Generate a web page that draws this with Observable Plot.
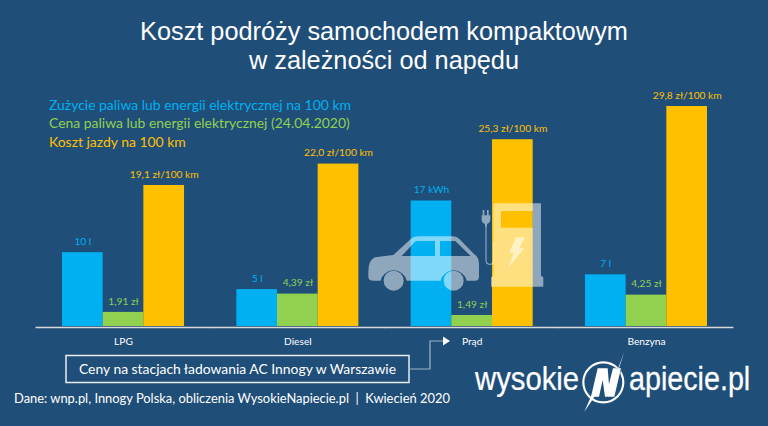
<!DOCTYPE html>
<html><head><meta charset="utf-8">
<script src="https://cdn.jsdelivr.net/npm/d3@7"></script>
<script src="https://cdn.jsdelivr.net/npm/@observablehq/plot@0.6"></script>
<style>
html,body{margin:0;padding:0;background:#1f4e79;overflow:hidden}
#page{position:relative;width:768px;height:426px;background:#1f4e79;overflow:hidden}
#page>svg{position:absolute;left:0;top:0}
.t{position:absolute;white-space:nowrap;font-family:Lato,sans-serif}
</style></head><body><div id="page"></div>
<script>
const categories = ["LPG","Diesel","Prąd","Benzyna"];
const consumption = [10,5,17,7];
const consumptionLabels = ["10 l","5 l","17 kWh","7 l"];
const price = [1.91,4.39,1.49,4.25];
const priceLabels = ["1,91 zł","4,39 zł","1,49 zł","4,25 zł"];
const cost = [19.1,22.0,25.3,29.8];
const costLabels = ["19,1 zł/100 km","22,0 zł/100 km","25,3 zł/100 km","29,8 zł/100 km"];
const seriesNames = ["Zużycie","Cena","Koszt"];
const seriesColors = ["#00b0f0","#92d050","#ffc000"];
const legendLines = ["Zużycie paliwa lub energii elektrycznej na 100 km","Cena paliwa lub energii elektrycznej (24.04.2020)","Koszt jazdy na 100 km"];

const rows = categories.flatMap((c,i)=>[
 {c,s:seriesNames[0],v:consumption[i],l:consumptionLabels[i]},
 {c,s:seriesNames[1],v:price[i],l:priceLabels[i]},
 {c,s:seriesNames[2],v:cost[i],l:costLabels[i]}]);

const chart = Plot.plot({
 width:768,height:426,marginLeft:62,marginRight:61,marginTop:106,marginBottom:100,
 style:{background:"transparent",fontFamily:"Lato,sans-serif",overflow:"visible"},
 fx:{domain:categories,padding:0.3,label:null,round:false},
 x:{domain:seriesNames,padding:0,round:false,axis:null},
 y:{domain:[0,29.8],axis:null},
 color:{domain:seriesNames,range:seriesColors},
 marks:[
  Plot.barY(rows,{fx:"c",x:"s",y:"v",fill:"s"}),
  Plot.text(rows,{fx:"c",x:"s",y:"v",text:"l",fill:"s",dy:-11,fontSize:10.2}),
  Plot.ruleY([0],{stroke:"#d9d9d9",strokeWidth:1.5,dy:1,insetLeft:-26.5,insetRight:-26.5}),
  Plot.axisFx({anchor:"bottom",tickSize:0,tickPadding:11,fontSize:10.2,color:"#fff",label:null})
 ]
});
const page=document.getElementById("page");
page.appendChild(chart);

function t(txt,x,y,size,color,extra){
 const d=document.createElement("div");d.className="t";d.textContent=txt;
 d.style.cssText=`left:${x}px;top:${y}px;font-size:${size}px;color:${color};line-height:1;`+(extra||"");
 page.appendChild(d);return d;
}
t("Koszt podróży samochodem kompaktowym",0,19,25.3,"#fff","width:768px;text-align:center;font-family:'Liberation Sans',sans-serif;");
t("w zależności od napędu",0,48,25.3,"#fff","width:768px;text-align:center;font-family:'Liberation Sans',sans-serif;");
legendLines.forEach((l,i)=>t(l,49,97.5+i*18.5,13.95,seriesColors[i]));
t("Ceny na stacjach ładowania AC Innogy w Warszawie",66,362,13.9,"#fff","width:343px;text-align:center;");
t("Dane: wnp.pl, Innogy Polska, obliczenia WysokieNapiecie.pl  |  Kwiecień 2020",14,392,12.9,"#fff","white-space:pre;");

const overlay=`
<svg xmlns="http://www.w3.org/2000/svg" width="768" height="426" viewBox="0 0 768 426" style="position:absolute;left:0;top:0;pointer-events:none">
 <g transform="translate(350,120) scale(0.3333)" fill="#fff" fill-opacity="0.5">
  <path fill-rule="evenodd" d="M55 455 Q55 420 75 412 L130 405 L185 355 Q192 349 205 349 L310 349 Q320 349 328 357 L372 402 Q387 412 387 430 L387 470 Q387 482 375 482 L350 482 A40 40 0 0 0 272 482 L170 482 A40 40 0 0 0 92 482 L70 482 Q55 482 55 470 Z
   M155 408 L255 408 L255 363 L197 363 Z M270 408 L362 408 L316 363 L270 363 Z"/>
  <circle cx="131" cy="482" r="30"/><circle cx="311" cy="482" r="30"/>
  <path fill-rule="evenodd" d="M430 250 L573 250 L573 467 L580 472 L580 500 L423 500 L423 472 L430 467 Z
   M453 273 L548 273 L548 323 L453 323 Z"/>
  <path fill-opacity="0.55" d="M498 352 L525 352 L508 385 L522 385 L475 443 L492 398 L478 398 Z"/>
  <path d="M400 270 h5 v16 h8 v-16 h5 v16 h5 v14 q0 8 -10 12 v8 h-6 v-8 q-10 -4 -10 -12 v-14 h3 z" transform="translate(-2,0)"/>
  <path d="M408 320 V420 Q408 433 420 433 Q431 433 431 420 V365" fill="none" stroke="#fff" stroke-opacity="0.5" stroke-width="3.5"/>
 </g>
 <rect x="66" y="355.5" width="343" height="27" fill="none" stroke="#e8edf2" stroke-width="1.5"/>
 <path d="M409 369 H430 V341 H443" fill="none" stroke="#9fb4c8" stroke-width="1.2"/>
 <path d="M443 336.5 L450 341 L443 345.5 Z" fill="#fff"/>
 <g font-family="'Liberation Sans',sans-serif" fill="#fff" stroke="#fff" stroke-width="0.25" font-size="33">
  <g transform="translate(475,390) scale(0.887,1)"><text>wysokie</text></g>
  <g transform="translate(629,390) scale(0.87,1)"><text>apiecie.pl</text></g>
 </g>
 <g transform="translate(465,345) scale(0.3333)" fill="#fff">
  <circle cx="415" cy="112" r="60" fill="none" stroke="#fff" stroke-width="6.5"/>
  <path d="M398 70 L428 70 L432 118 L444 70 L468 70 L448 155 L420 155 L413 105 L402 155 L378 155 Z" stroke="#1f4e79" stroke-width="3" paint-order="stroke"/>
  <path d="M478 20 L452 90 L462 70 Z M380 150 L358 200 L392 150 Z"/>
 </g>
</svg>`;
page.insertAdjacentHTML("beforeend",overlay);
</script></body></html>
